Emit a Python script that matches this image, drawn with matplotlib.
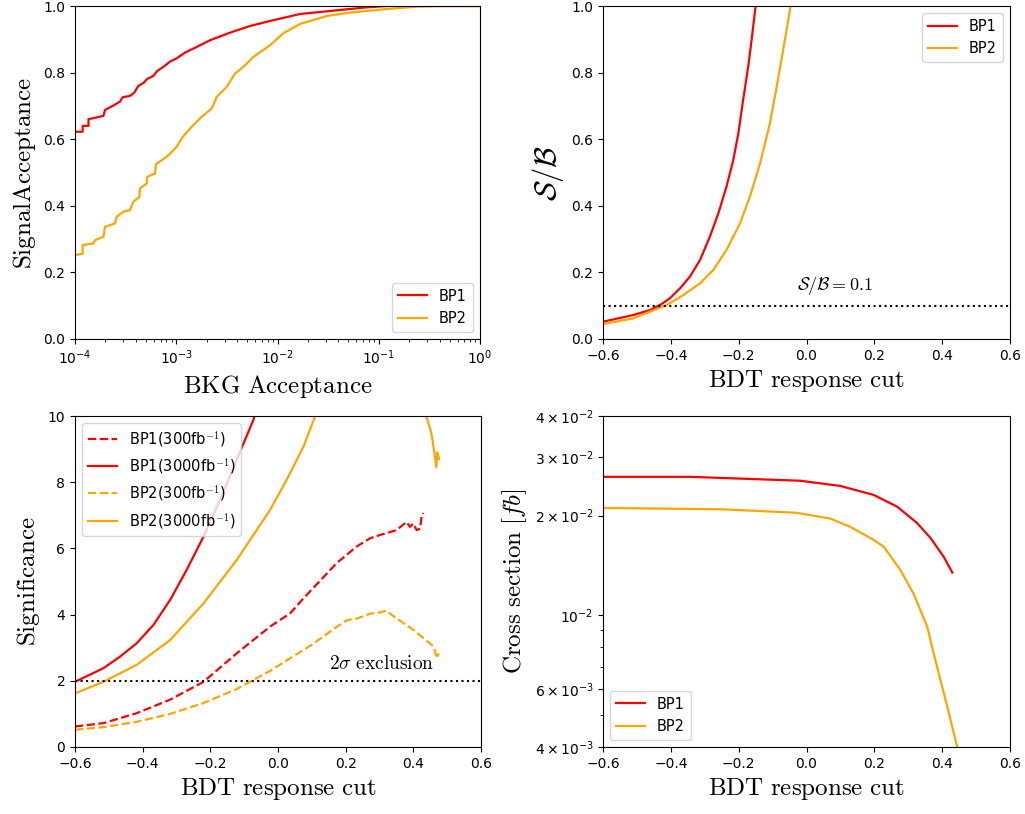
import matplotlib
matplotlib.use('Agg')
import matplotlib.pyplot as plt
from matplotlib.ticker import FixedLocator, FixedFormatter, NullFormatter

# ---------------- data ----------------
# ROC curves (background acceptance, signal acceptance)
roc_bkg_bp1 = [1.0e-4, 1.19e-4, 1.19e-4, 1.36e-4, 1.36e-4, 1.91e-4, 1.98e-4, 2.36e-4, 2.78e-4,
               2.96e-4, 3.49e-4, 3.85e-4, 4.23e-4, 4.80e-4, 5.11e-4, 5.94e-4, 6.50e-4, 7.45e-4,
               8.67e-4, 1.01e-3, 1.22e-3, 1.59e-3, 2.15e-3, 3.40e-3, 5.35e-3, 8.43e-3, 1.67e-2,
               3.55e-2, 7.6e-2, 0.12, 1.0]
roc_sig_bp1 = [0.6225, 0.6225, 0.64, 0.64, 0.66, 0.67, 0.688, 0.70, 0.713,
               0.726, 0.73, 0.74, 0.76, 0.77, 0.78, 0.79, 0.805, 0.817,
               0.833, 0.843, 0.86, 0.877, 0.897, 0.92, 0.94, 0.955, 0.976,
               0.986, 0.996, 1.0, 1.0]
roc_bkg_bp2 = [1.0e-4, 1.19e-4, 1.19e-4, 1.52e-4, 1.58e-4, 1.91e-4, 1.98e-4, 2.48e-4, 2.58e-4,
               3.00e-4, 3.49e-4, 3.77e-4, 4.32e-4, 4.38e-4, 5.11e-4, 5.18e-4, 6.17e-4, 6.31e-4,
               8.04e-4, 1.01e-3, 1.13e-3, 1.22e-3, 1.47e-3, 1.78e-3, 2.24e-3, 2.51e-3, 3.15e-3,
               3.80e-3, 4.60e-3, 5.77e-3, 8.43e-3, 1.14e-2, 1.67e-2, 3.06e-2, 5.2e-2, 0.111,
               0.237, 0.4, 1.0]
roc_sig_bp2 = [0.252, 0.256, 0.282, 0.287, 0.297, 0.307, 0.337, 0.347, 0.367,
               0.382, 0.387, 0.412, 0.427, 0.452, 0.467, 0.487, 0.497, 0.525,
               0.547, 0.577, 0.602, 0.615, 0.642, 0.667, 0.692, 0.727, 0.757,
               0.797, 0.817, 0.847, 0.882, 0.918, 0.946, 0.970, 0.980, 0.990,
               0.998, 1.0, 1.0]

# S/B vs BDT cut
sb_cut_bp1 = [-0.6, -0.511, -0.461, -0.432, -0.403, -0.373, -0.344, -0.314, -0.285, -0.260,
              -0.236, -0.216, -0.201, -0.187, -0.172, -0.162, -0.150]
sb_bp1 = [0.052, 0.072, 0.087, 0.102, 0.122, 0.152, 0.187, 0.237, 0.307, 0.377,
          0.457, 0.537, 0.617, 0.717, 0.817, 0.897, 1.0]
sb_cut_bp2 = [-0.6, -0.511, -0.412, -0.363, -0.314, -0.275, -0.236, -0.196, -0.167, -0.137,
              -0.108, -0.088, -0.069, -0.054, -0.047]
sb_bp2 = [0.045, 0.062, 0.102, 0.132, 0.167, 0.207, 0.267, 0.347, 0.427, 0.527,
          0.647, 0.757, 0.867, 0.957, 1.0]
sb_threshold = 0.1

# Significance vs BDT cut
sig_cut_bp1_3000 = [-0.6, -0.516, -0.467, -0.418, -0.368, -0.319, -0.27, -0.22, -0.171,
                    -0.122, -0.072, -0.068]
sig_bp1_3000 = [1.97, 2.38, 2.73, 3.13, 3.69, 4.44, 5.35, 6.36, 7.47, 8.68, 9.9, 10.1]
sig_cut_bp2_3000 = [-0.6, -0.516, -0.418, -0.319, -0.22, -0.122, -0.023, 0.026, 0.076, 0.110,
                    0.15, 0.43, 0.438, 0.453, 0.462, 0.468, 0.471, 0.476]
sig_bp2_3000 = [1.62, 1.97, 2.48, 3.23, 4.34, 5.65, 7.17, 8.08, 9.09, 10.0,
                11.0, 11.0, 10.0, 9.5, 8.9, 8.45, 8.9, 8.7]
sig_cut_bp1_300 = [-0.6, -0.516, -0.418, -0.319, -0.22, -0.122, -0.023, 0.036, 0.076, 0.174,
                   0.233, 0.273, 0.3, 0.35, 0.38, 0.39, 0.4, 0.41, 0.42, 0.425, 0.43]
sig_bp1_300 = [0.62, 0.72, 1.02, 1.43, 1.97, 2.83, 3.64, 4.04, 4.5, 5.56,
               6.06, 6.31, 6.4, 6.55, 6.8, 6.65, 6.75, 6.55, 6.6, 7.0, 7.07]
sig_cut_bp2_300 = [-0.6, -0.516, -0.418, -0.319, -0.22, -0.122, -0.078, -0.023, 0.036, 0.1,
                   0.174, 0.204, 0.233, 0.273, 0.3, 0.32, 0.35, 0.4, 0.43, 0.46, 0.47, 0.475]
sig_bp2_300 = [0.52, 0.6, 0.76, 1.0, 1.33, 1.75, 2.0, 2.3, 2.68, 3.09,
               3.63, 3.83, 3.88, 4.03, 4.06, 4.12, 3.89, 3.54, 3.29, 3.03, 2.68, 2.83]
sig_threshold = 2.0

# Cross section vs BDT cut
xs_cut_bp1 = [-0.6, -0.344, -0.019, 0.099, 0.198, 0.267, 0.326, 0.366, 0.405, 0.430]
xs_bp1 = [0.0262, 0.0262, 0.0255, 0.0246, 0.0231, 0.0213, 0.0190, 0.0171, 0.0150, 0.01346]
xs_cut_bp2 = [-0.6, -0.246, -0.029, 0.07, 0.129, 0.198, 0.228, 0.277, 0.316, 0.356, 0.375,
              0.395, 0.415, 0.444, 0.46]
xs_bp2 = [0.0211, 0.0209, 0.0204, 0.0196, 0.0185, 0.0169, 0.0161, 0.0137, 0.0116, 0.00923,
          0.00767, 0.00637, 0.00530, 0.00401, 0.0035]
xs_ticks = [4e-3, 6e-3, 1e-2, 2e-2, 3e-2, 4e-2]
xs_ticklabels = [r'$\mathdefault{4\times10^{-3}}$', r'$\mathdefault{6\times10^{-3}}$',
                 r'$\mathdefault{10^{-2}}$', r'$\mathdefault{2\times10^{-2}}$',
                 r'$\mathdefault{3\times10^{-2}}$', r'$\mathdefault{4\times10^{-2}}$']

# ---------------- plotting ----------------
plt.rcParams['mathtext.fontset'] = 'cm'
plt.rcParams['font.size'] = 10
RED = 'red'
ORANGE = 'orange'
LW = 1.6
LABEL_FS = 18
LEG_FS = 10.5

fig = plt.figure(figsize=(10.25, 8.14), dpi=100)
ax1 = fig.add_axes([75/1025, 1-339/814, 405/1025, 333/814])
ax2 = fig.add_axes([603/1025, 1-339/814, 407/1025, 333/814])
ax3 = fig.add_axes([75/1025, 1-747/814, 406/1025, 331/814])
ax4 = fig.add_axes([603/1025, 1-747/814, 407/1025, 331/814])

# Panel 1: ROC
ax1.plot(roc_bkg_bp1, roc_sig_bp1, color=RED, lw=LW, label='BP1')
ax1.plot(roc_bkg_bp2, roc_sig_bp2, color=ORANGE, lw=LW, label='BP2')
ax1.set_xscale('log')
ax1.set_xlim(1e-4, 1)
ax1.set_ylim(0, 1)
ax1.set_xlabel(r'$\mathrm{BKG\ Acceptance}$', fontsize=LABEL_FS)
ax1.set_ylabel(r'$\mathrm{SignalAcceptance}$', fontsize=LABEL_FS)
ax1.legend(loc='lower right', fontsize=LEG_FS)

# Panel 2: S/B
ax2.plot(sb_cut_bp1, sb_bp1, color=RED, lw=LW, label='BP1')
ax2.plot(sb_cut_bp2, sb_bp2, color=ORANGE, lw=LW, label='BP2')
ax2.axhline(sb_threshold, color='black', ls=':', lw=1.5)
ax2.text(0.085, 0.125, r'$\mathcal{S}/\mathcal{B}=0.1$', fontsize=13, ha='center', va='bottom')
ax2.set_xlim(-0.6, 0.6)
ax2.set_ylim(0, 1)
ax2.set_xlabel(r'$\mathrm{BDT\ response\ cut}$', fontsize=LABEL_FS)
ax2.set_ylabel(r'$\mathcal{S}/\mathcal{B}$', fontsize=22)
ax2.legend(loc='upper right', fontsize=LEG_FS)

# Panel 3: Significance
ax3.plot(sig_cut_bp1_300, sig_bp1_300, color=RED, lw=LW, ls='--', label=r'BP1(300fb$^{-1}$)')
ax3.plot(sig_cut_bp1_3000, sig_bp1_3000, color=RED, lw=LW, label=r'BP1(3000fb$^{-1}$)')
ax3.plot(sig_cut_bp2_300, sig_bp2_300, color=ORANGE, lw=LW, ls='--', label=r'BP2(300fb$^{-1}$)')
ax3.plot(sig_cut_bp2_3000, sig_bp2_3000, color=ORANGE, lw=LW, label=r'BP2(3000fb$^{-1}$)')
ax3.axhline(sig_threshold, color='black', ls=':', lw=1.5)
ax3.text(0.307, 2.25, r'$2\sigma\ \mathrm{exclusion}$', fontsize=14, ha='center', va='bottom')
ax3.set_xlim(-0.6, 0.6)
ax3.set_ylim(0, 10)
ax3.set_xlabel(r'$\mathrm{BDT\ response\ cut}$', fontsize=LABEL_FS)
ax3.set_ylabel(r'$\mathrm{Significance}$', fontsize=LABEL_FS)
ax3.legend(loc='upper left', fontsize=LEG_FS)

# Panel 4: Cross section
ax4.plot(xs_cut_bp1, xs_bp1, color=RED, lw=LW, label='BP1')
ax4.plot(xs_cut_bp2, xs_bp2, color=ORANGE, lw=LW, label='BP2')
ax4.set_yscale('log')
ax4.set_xlim(-0.6, 0.6)
ax4.set_ylim(4e-3, 4e-2)
ax4.yaxis.set_major_locator(FixedLocator(xs_ticks))
ax4.yaxis.set_major_formatter(FixedFormatter(xs_ticklabels))
ax4.yaxis.set_minor_locator(FixedLocator([5e-3, 7e-3, 8e-3, 9e-3]))
ax4.yaxis.set_minor_formatter(NullFormatter())
ax4.set_xlabel(r'$\mathrm{BDT\ response\ cut}$', fontsize=LABEL_FS)
ax4.set_ylabel(r'$\mathrm{Cross\ section}\ [fb]$', fontsize=LABEL_FS)
ax4.legend(loc='lower left', fontsize=LEG_FS)

fig.savefig('out.png', dpi=100)
